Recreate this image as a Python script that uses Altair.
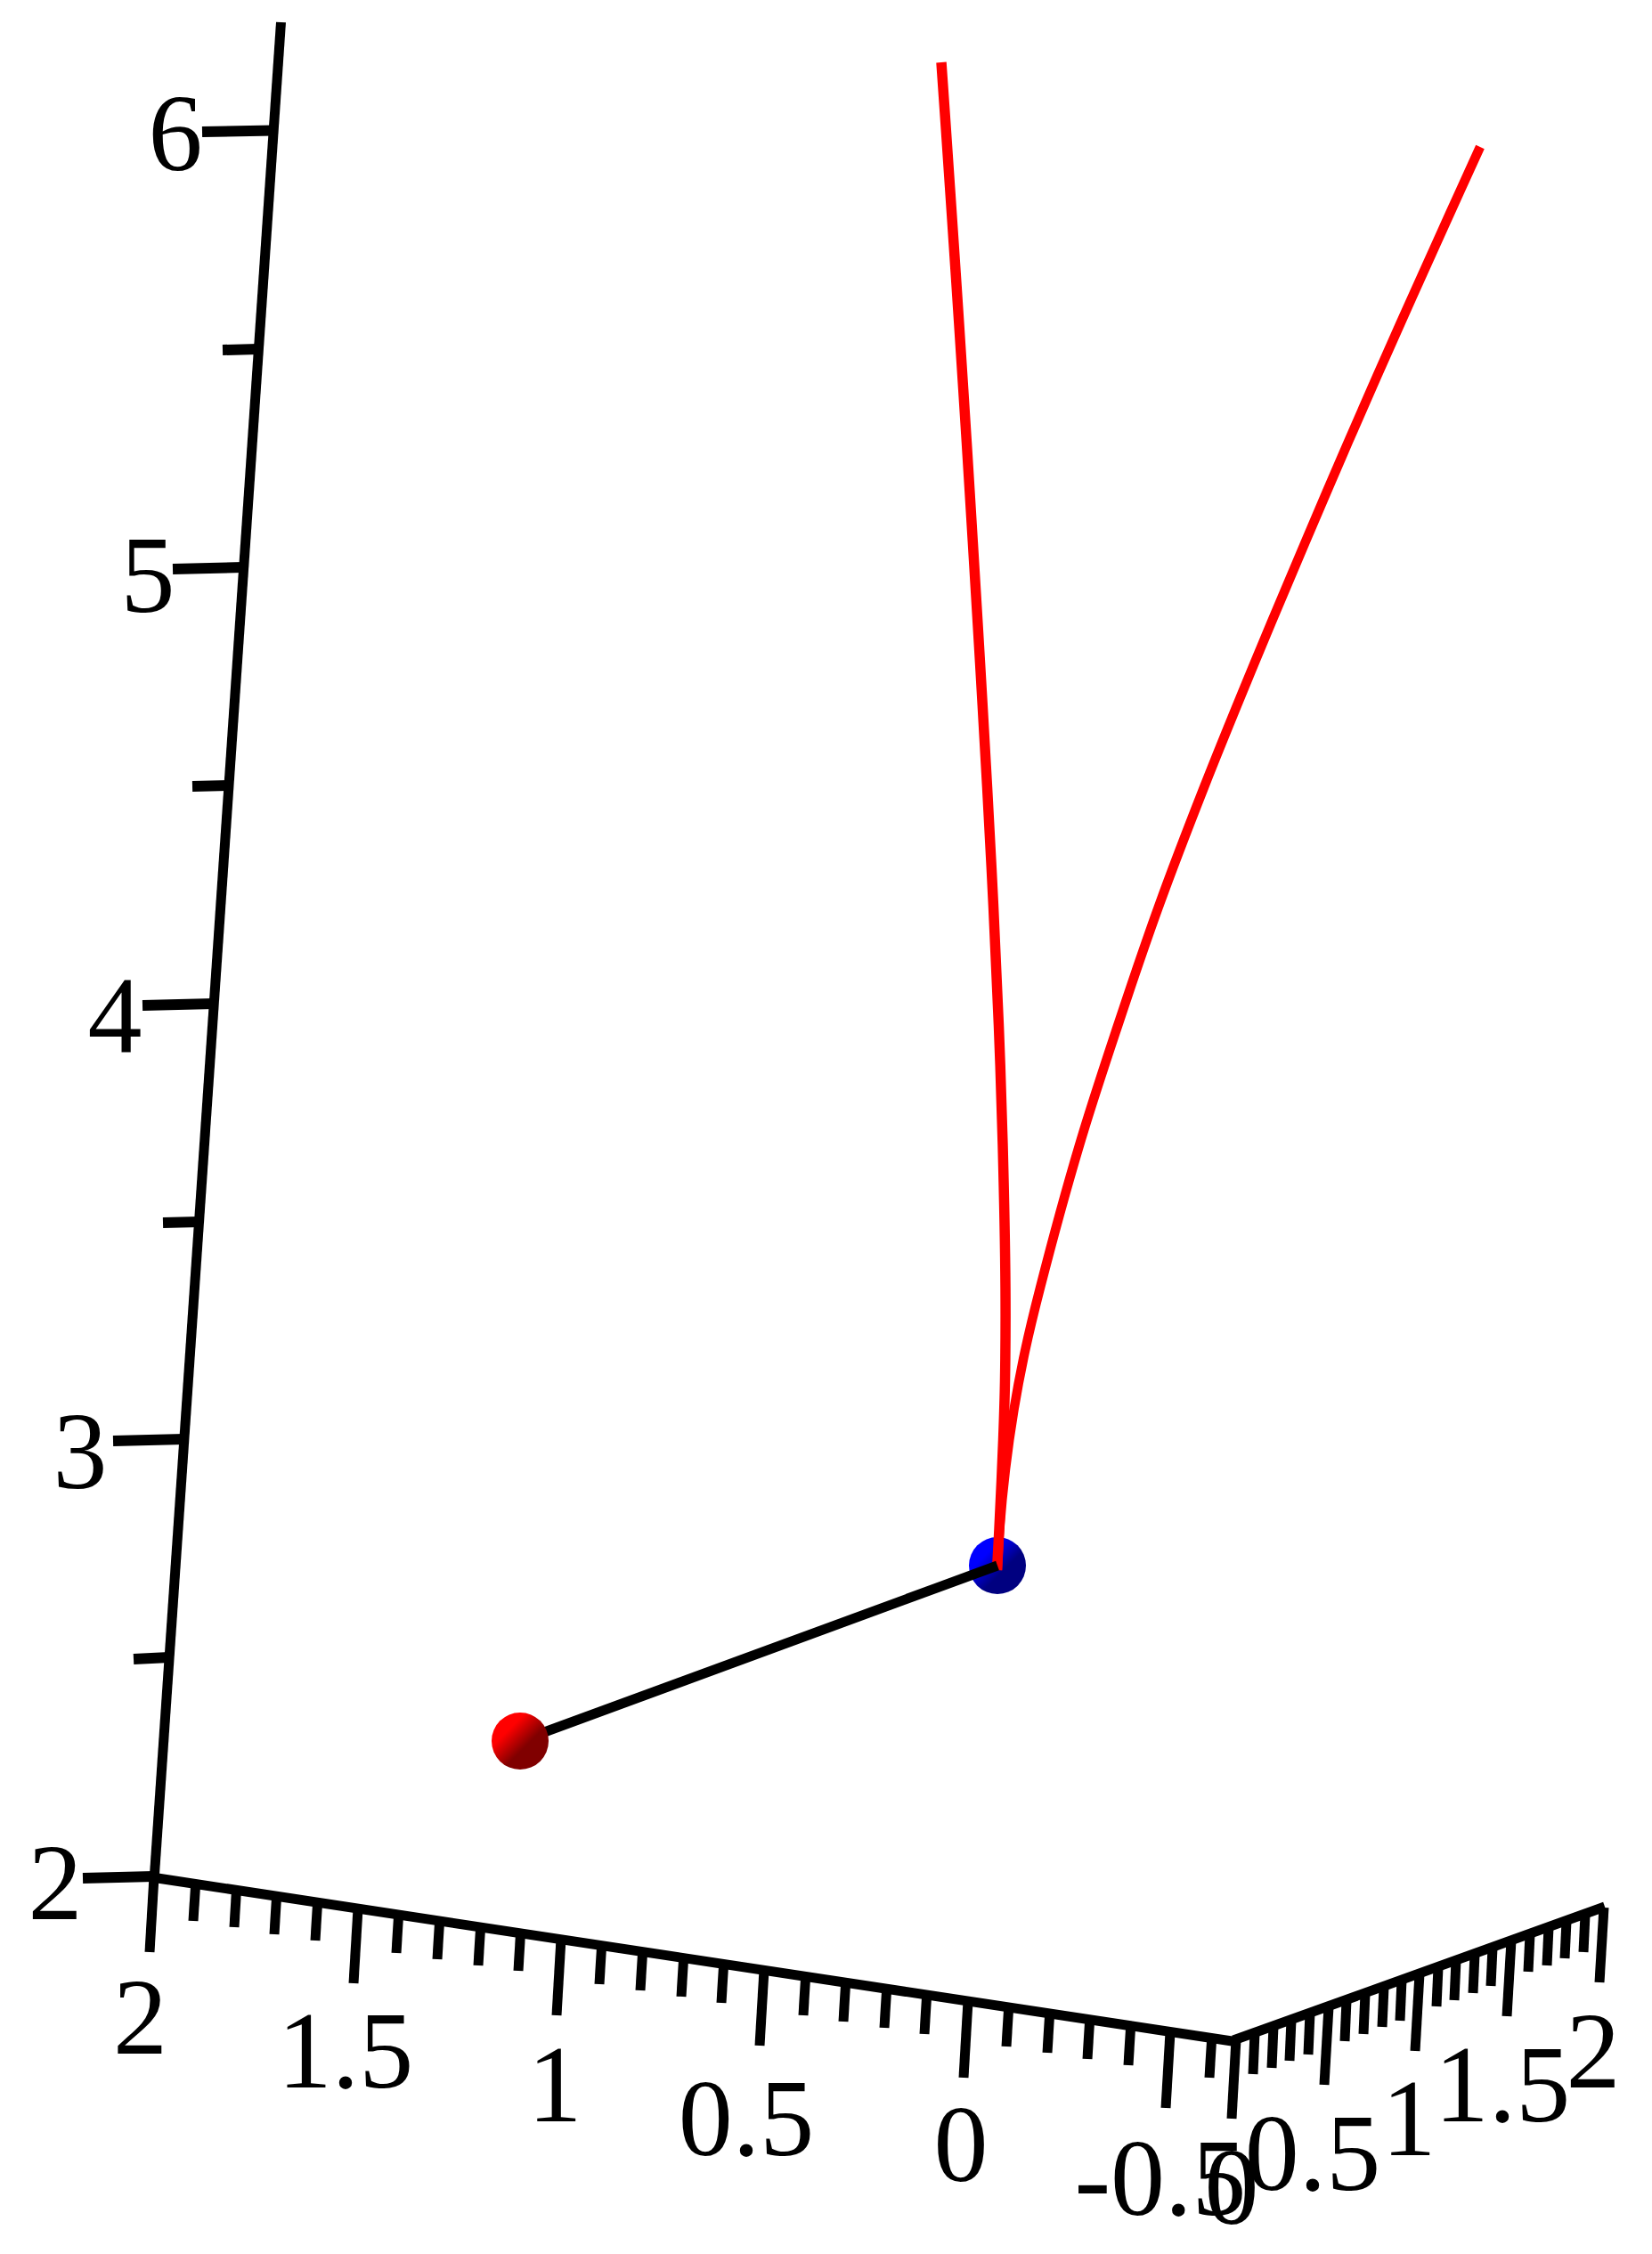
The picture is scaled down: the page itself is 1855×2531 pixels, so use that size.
import altair as alt
import pandas as pd

W, H = 1839, 2515
FONT = "Liberation Serif"
FS = 122

# axis lines: x1, y1, x2, y2
axis_x_line = [177, 2109, 1390, 2293]
axis_y_line = [1385, 2291, 1802, 2141]
axis_z_line = [173, 2112, 315.5, 25]

# x axis ticks (tx, ty, bx, by)
x_major = [
    (173, 2107, 168, 2192), (402, 2143, 397, 2227), (630, 2177, 625, 2263),
    (858, 2212, 853, 2297), (1087, 2247, 1082, 2333), (1314, 2282, 1309, 2367),
]
x_minor = [
    (219.7, 2115, 217, 2157), (265.5, 2122, 263, 2164), (310.6, 2129, 308, 2172),
    (356.6, 2136, 354, 2179), (447.6, 2150, 445, 2193), (493.6, 2157, 491, 2200),
    (539.6, 2164, 537, 2207), (584.5, 2171, 582, 2213), (675.6, 2185, 673, 2228),
    (721.6, 2192, 719, 2235), (767.6, 2199, 765, 2242), (812.6, 2206, 810, 2249),
    (904.6, 2220, 902, 2263), (949.6, 2227, 947, 2270), (995.6, 2234, 993, 2277),
    (1040.6, 2241, 1038, 2284), (1132.6, 2255, 1130, 2298), (1178.6, 2262, 1176, 2305),
    (1223.6, 2269, 1221, 2312), (1269.6, 2276, 1267, 2319), (1360.6, 2290, 1358, 2333),
]
# y axis ticks
y_major = [
    (1388, 2290, 1383, 2379), (1492, 2253, 1487, 2341), (1594, 2216, 1589, 2303),
    (1697, 2179, 1692, 2264), (1801, 2142, 1796, 2226),
]
y_minor = [
    (1409, 2282, 1407, 2329), (1430, 2275, 1428, 2322), (1450, 2268, 1448, 2314),
    (1471, 2260, 1469, 2307), (1512, 2246, 1510, 2292), (1533, 2238, 1531, 2284),
    (1554, 2231, 1552, 2276), (1574, 2223, 1572, 2269), (1615, 2209, 1613, 2253),
    (1635, 2201, 1633, 2246), (1656, 2194, 1654, 2238), (1676, 2187, 1674, 2230),
    (1718, 2172, 1716, 2214), (1739, 2164, 1737, 2207), (1759, 2157, 1757, 2199),
    (1780, 2150, 1778, 2192),
]
# z axis ticks
z_ticks = [
    (93, 2109, 173, 2107), (127, 1618, 207, 1616), (160, 1129, 240, 1127),
    (194, 639, 273, 637), (227, 148, 307, 146.5),
    (150, 1863, 190, 1861), (183, 1373, 223, 1372), (216, 883, 256, 882), (250, 393, 290, 392),
]

# labels: text, centre, baseline
labels_t = ["2", "3", "4", "5", "6",
            "2", "1.5", "1", "0.5", "0", "-0.5",
            "0", "0.5", "1", "1.5", "2"]
labels_x = [62, 90, 129, 166, 197,
            157.5, 388, 623, 838, 1079, 1303,
            1383, 1474, 1582, 1687, 1789]
labels_y = [2155, 1671, 1182, 687, 191,
            2306, 2344, 2382, 2420, 2449, 2487,
            2497, 2459, 2420, 2382, 2344]

# curves
curve_a_x = [1057, 1061.8, 1070.9, 1076.8, 1085.4, 1092.3, 1100.6, 1108.5, 1115.5, 1121.5, 1126, 1129, 1128.5, 1126.5, 1122, 1119.5]
curve_a_y = [70, 139, 273, 362, 496, 608, 746, 884, 1018, 1152, 1286, 1446, 1550, 1617, 1717, 1763]
curve_b_x = [1662, 1627, 1573, 1514, 1466, 1408, 1352, 1301, 1255, 1212, 1168, 1151, 1138.5, 1129, 1122.5, 1120]
curve_b_y = [165, 242, 362, 496, 608, 746, 884, 1018, 1152, 1286, 1446, 1517, 1583, 1650, 1717, 1763]

segment_x = [1120, 584]
segment_y = [1758, 1955]
blue_pt = (1120, 1758)
red_pt = (584, 1955)

X_SCALE = alt.Scale(domain=[8, 8 + W], nice=False, zero=False)
Y_SCALE = alt.Scale(domain=[8 + H, 8], nice=False, zero=False)
ex = alt.X("x:Q", scale=X_SCALE, axis=None)
ey = alt.Y("y:Q", scale=Y_SCALE, axis=None)


def rules(rows, width):
    df = pd.DataFrame(rows, columns=["x", "y", "x2", "y2"])
    return alt.Chart(df).mark_rule(color="black", strokeWidth=width, strokeCap="butt").encode(
        x=ex, y=ey, x2="x2:Q", y2="y2:Q"
    )


def line(xs, ys, color, width, interp="catmull-rom"):
    df = pd.DataFrame({"x": xs, "y": ys, "i": list(range(len(xs)))})
    return alt.Chart(df).mark_line(
        color=color, strokeWidth=width, strokeCap="butt", interpolate=interp
    ).encode(x=ex, y=ey, order="i:Q")


def sphere(pt, bright, dark):
    grad = alt.LinearGradient(
        gradient="linear", x1=0.1, y1=0.1, x2=0.9, y2=0.9,
        stops=[alt.GradientStop(offset=0.25, color=bright),
               alt.GradientStop(offset=0.62, color=dark)],
    )
    df = pd.DataFrame({"x": [pt[0]], "y": [pt[1]]})
    return alt.Chart(df).mark_point(
        shape="circle", size=4096, filled=True, fill=grad, opacity=1, strokeWidth=0
    ).encode(x=ex, y=ey)


text_df = pd.DataFrame({"x": labels_x, "y": labels_y, "t": labels_t})
texts = alt.Chart(text_df).mark_text(
    font=FONT, fontSize=FS, align="center", baseline="alphabetic", color="black"
).encode(x=ex, y=ey, text="t:N")

chart = alt.layer(
    rules([tuple(axis_x_line), tuple(axis_y_line), tuple(axis_z_line)], 11),
    rules(x_major + x_minor + y_major + y_minor, 11),
    rules(z_ticks, 12),
    texts,
    sphere(blue_pt, "#0000ff", "#000080"),
    line(curve_a_x, curve_a_y, "#ff0000", 11.5),
    line(curve_b_x, curve_b_y, "#ff0000", 10.5),
    line(segment_x, segment_y, "#000000", 11, "linear"),
    sphere(red_pt, "#ff0000", "#800000"),
).properties(
    width=W, height=H, padding=0, autosize=alt.AutoSizeParams(type="none"), background="white"
).configure_view(stroke=None)

chart.save("out.html", embed_options={"renderer": "svg", "actions": False})
